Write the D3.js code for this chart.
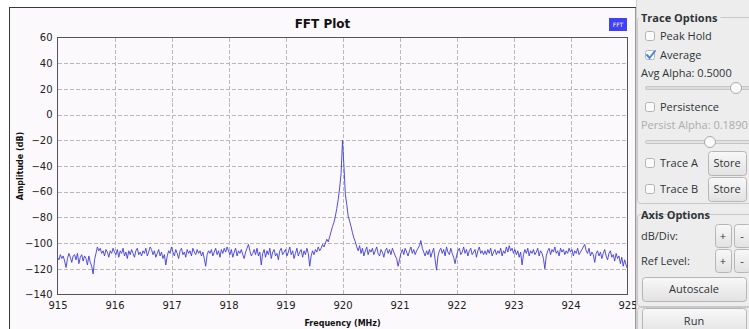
<!DOCTYPE html>
<html>
<head>
<meta charset="utf-8">
<script src="https://cdn.jsdelivr.net/npm/d3@7"></script>
<style>
  html, body { margin: 0; padding: 0; background: #ffffff; overflow: hidden; }
  svg { display: block; }
</style>
</head>
<body>
<div id="chart"></div>
<script>
// FFT bins: start frequency and bin spacing (MHz)
const freqStart = 915;
const freqStep = 0.025;

// averaged magnitude per bin (dB)
const amplitudeDb = [
  -111,-113,-109,-112,-110,-114,-119,-112,-108,-111,-115,-110,-109,-113,-108,-116,-111,-109,-114,-110,
  -112,-117,-110,-115,-118,-124,-113,-108,-103,-106,-104,-108,-106,-110,-105,-107,-111,-106,-108,-104,
  -107,-109,-105,-111,-106,-108,-104,-110,-107,-112,-106,-109,-105,-108,-111,-106,-104,-109,-107,-110,
  -106,-108,-104,-110,-107,-103,-105,-109,-106,-111,-108,-105,-110,-107,-112,-109,-117,-110,-106,-108,
  -103,-107,-110,-105,-108,-112,-106,-104,-109,-107,-111,-105,-108,-106,-110,-104,-107,-109,-105,-108,
  -106,-110,-107,-112,-118,-109,-106,-108,-105,-110,-107,-104,-109,-106,-111,-105,-108,-104,-107,-103,
  -106,-109,-105,-111,-107,-104,-110,-106,-108,-105,-109,-112,-107,-104,-101,-106,-110,-108,-105,-109,
  -104,-110,-107,-117,-108,-105,-111,-106,-109,-104,-112,-107,-105,-110,-108,-113,-106,-104,-109,-107,
  -105,-110,-107,-103,-109,-106,-112,-108,-104,-110,-107,-105,-111,-106,-109,-104,-108,-118,-110,-106,
  -109,-105,-107,-103,-106,-104,-101,-103,-100,-97,-99,-95,-91,-87,-84,-79,-73,-66,-57,-46,
  -20,-40,-62,-70,-79,-83,-87,-92,-96,-99,-103,-106,-102,-108,-104,-110,-106,-103,-109,-105,
  -107,-104,-109,-106,-103,-108,-110,-105,-107,-111,-106,-104,-108,-105,-109,-104,-107,-110,-112,-118,
  -113,-108,-105,-109,-104,-107,-110,-106,-103,-108,-105,-109,-106,-104,-102,-98,-104,-107,-110,-106,
  -109,-105,-111,-107,-104,-113,-121,-110,-106,-104,-108,-105,-110,-103,-107,-109,-104,-108,-111,-116,
  -110,-106,-104,-109,-107,-103,-108,-105,-110,-106,-104,-109,-107,-105,-111,-106,-103,-108,-106,-109,
  -106,-109,-105,-108,-104,-110,-107,-105,-109,-106,-108,-104,-110,-106,-108,-103,-107,-102,-106,-104,
  -108,-105,-109,-106,-111,-107,-117,-109,-105,-108,-104,-110,-106,-108,-105,-109,-107,-104,-110,-106,
  -108,-112,-120,-110,-106,-104,-109,-105,-107,-103,-108,-106,-110,-104,-107,-105,-109,-106,-108,-104,
  -107,-105,-110,-106,-108,-104,-109,-107,-105,-103,-101,-106,-108,-104,-110,-107,-109,-115,-108,-106,
  -110,-107,-112,-108,-105,-110,-113,-108,-106,-111,-109,-114,-108,-112,-110,-116,-111,-118,-113,-117,
  -120
];

const xTicks = [915, 916, 917, 918, 919, 920, 921, 922, 923, 924, 925];
const yTicks = [-140, -120, -100, -80, -60, -40, -20, 0, 20, 40, 60];

const width = 749;
const height = 329;
const plotLeft = 57.5;
const plotRight = 627.5;
const plotTop = 37.5;
const plotBottom = 294.5;
const panelX = 636;

const svg = d3.select("#chart").append("svg")
  .attr("width", width)
  .attr("height", height);

// widget background + outer frame
svg.append("rect")
  .attr("x", 9.5).attr("y", 7.5)
  .attr("width", panelX - 9.5).attr("height", height)
  .attr("fill", "#fcf9fc")
  .attr("stroke", "#3a3a3a");

const x = d3.scaleLinear().domain([915, 925]).range([plotLeft, plotRight]);
const y = d3.scaleLinear().domain([-140, 60]).range([plotBottom, plotTop]);

// grid
const grid = svg.append("g")
  .attr("stroke", "#b9b9b9")
  .attr("stroke-dasharray", "4,2")
  .attr("shape-rendering", "crispEdges");
grid.selectAll("line.v").data(xTicks.slice(1, -1)).join("line")
  .attr("x1", d => Math.round(x(d)) + 0.5).attr("x2", d => Math.round(x(d)) + 0.5)
  .attr("y1", plotTop).attr("y2", plotBottom);
grid.selectAll("line.h").data(yTicks.slice(1, -1)).join("line")
  .attr("y1", d => Math.round(y(d)) + 0.5).attr("y2", d => Math.round(y(d)) + 0.5)
  .attr("x1", plotLeft).attr("x2", plotRight);

// trace
const points = amplitudeDb.map((v, i) => [freqStart + i * freqStep, v]);
const line = d3.line().x(d => x(d[0])).y(d => y(d[1]));
svg.append("path")
  .datum(points)
  .attr("d", line)
  .attr("fill", "none")
  .attr("stroke", "#3c3cdc")
  .attr("stroke-width", 0.9)
  .attr("stroke-linejoin", "round");

// canvas frame
svg.append("rect")
  .attr("x", plotLeft).attr("y", plotTop)
  .attr("width", plotRight - plotLeft).attr("height", plotBottom - plotTop)
  .attr("fill", "none")
  .attr("stroke", "#555")
  .attr("shape-rendering", "crispEdges");

// axes
const axisFont = "'DejaVu Sans', sans-serif";
const yAxis = svg.append("g")
  .attr("transform", `translate(${plotLeft},0)`)
  .call(d3.axisLeft(y).tickValues(yTicks).tickSize(0).tickPadding(5));
const xAxis = svg.append("g")
  .attr("transform", `translate(0,${plotBottom})`)
  .call(d3.axisBottom(x).tickValues(xTicks).tickSize(0).tickPadding(7.5).tickFormat(d3.format("d")));
[xAxis, yAxis].forEach(a => {
  a.select(".domain").remove();
  a.selectAll("text")
    .attr("font-family", axisFont)
    .attr("font-size", 10)
    .attr("fill", "#222");
});

// titles
svg.append("text")
  .attr("x", 322.5).attr("y", 27.5)
  .attr("text-anchor", "middle")
  .attr("font-family", axisFont).attr("font-weight", "bold").attr("font-size", 12)
  .attr("fill", "#111")
  .text("FFT Plot");
svg.append("text")
  .attr("x", (plotLeft + plotRight) / 2).attr("y", 326)
  .attr("text-anchor", "middle")
  .attr("font-family", axisFont).attr("font-weight", "bold").attr("font-size", 8)
  .attr("fill", "#111")
  .text("Frequency (MHz)");
svg.append("text")
  .attr("transform", `translate(23,${(plotTop + plotBottom) / 2}) rotate(-90)`)
  .attr("text-anchor", "middle")
  .attr("font-family", axisFont).attr("font-weight", "bold").attr("font-size", 8)
  .attr("fill", "#111")
  .text("Amplitude (dB)");

// legend
svg.append("rect")
  .attr("x", 609).attr("y", 18).attr("width", 18).attr("height", 13)
  .attr("fill", "#4040f4");
svg.append("text")
  .attr("x", 618).attr("y", 27)
  .attr("text-anchor", "middle")
  .attr("font-family", axisFont).attr("font-size", 6)
  .attr("fill", "#fff")
  .text("FFT");

// ---- control panel ----
const uiFont = "'Open Sans', sans-serif";
const panel = svg.append("g");
panel.append("rect")
  .attr("x", panelX).attr("y", 0).attr("width", width - panelX).attr("height", height)
  .attr("fill", "#ededed");
panel.append("line")
  .attr("x1", panelX + 0.5).attr("x2", panelX + 0.5).attr("y1", 0).attr("y2", height)
  .attr("stroke", "#d0d0d0");

const defs = svg.append("defs");
const btnGrad = defs.append("linearGradient").attr("id", "btn").attr("x1", 0).attr("y1", 0).attr("x2", 0).attr("y2", 1);
btnGrad.append("stop").attr("offset", "0%").attr("stop-color", "#f8f8f8");
btnGrad.append("stop").attr("offset", "100%").attr("stop-color", "#e2e2e2");

function groupBox(top, h, title) {
  panel.append("rect")
    .attr("x", 637.5).attr("y", top + 0.5).attr("width", 140).attr("height", h)
    .attr("rx", 3)
    .attr("fill", "none").attr("stroke", "#c8c8c8");
  if (title) {
    const t = panel.append("text")
      .attr("x", 641).attr("y", top + 4.5)
      .attr("font-family", uiFont).attr("font-weight", "bold").attr("font-size", 11)
      .attr("fill", "#2e3436")
      .text(title);
    const w = t.node().getComputedTextLength();
    panel.insert("rect", "text")
      .attr("x", 639).attr("y", top - 6).attr("width", w + 5).attr("height", 12)
      .attr("fill", "#ededed");
  }
}
groupBox(17, 186, "Trace Options");
groupBox(214, 92, "Axis Options");
groupBox(307, 40, null);

function label(xp, yp, txt, color) {
  panel.append("text")
    .attr("x", xp).attr("y", yp + 4)
    .attr("font-family", uiFont).attr("font-size", 11)
    .attr("fill", color || "#2e3436")
    .text(txt);
}
function checkbox(yc, txt, checked) {
  panel.append("rect")
    .attr("x", 645.5).attr("y", yc - 4.5).attr("width", 9).attr("height", 9)
    .attr("rx", 2)
    .attr("fill", "#fafafa").attr("stroke", "#b4b4b4");
  if (checked) {
    panel.append("path")
      .attr("d", `M647,${yc} L649.5,${yc + 3} L655,${yc - 4}`)
      .attr("fill", "none").attr("stroke", "#4a86d4").attr("stroke-width", 2)
      .attr("stroke-linecap", "round");
  }
  label(660, yc, txt);
}
function button(x0, y0, w, h, txt) {
  panel.append("rect")
    .attr("x", x0 + 0.5).attr("y", y0 + 0.5).attr("width", w).attr("height", h)
    .attr("rx", 3)
    .attr("fill", "url(#btn)").attr("stroke", "#b6b6b6");
  panel.append("text")
    .attr("x", x0 + w / 2).attr("y", y0 + h / 2 + 4)
    .attr("text-anchor", "middle")
    .attr("font-family", uiFont).attr("font-size", 11)
    .attr("fill", "#2e3436")
    .text(txt);
}
function slider(yc, knobX, groove) {
  panel.append("rect")
    .attr("x", 645.5).attr("y", yc - 1.5).attr("width", 120).attr("height", 3)
    .attr("rx", 1.5)
    .attr("fill", groove).attr("stroke", "#bdbdbd").attr("stroke-width", 0.8);
  panel.append("circle")
    .attr("cx", knobX).attr("cy", yc).attr("r", 5.5)
    .attr("fill", "#fbfbfb").attr("stroke", "#a9a9a9");
}

checkbox(36, "Peak Hold", false);
checkbox(55, "Average", true);
label(641, 73, "Avg Alpha: 0.5000");
slider(88, 736, "#dcdcdc");
checkbox(107, "Persistence", false);
label(641, 125, "Persist Alpha: 0.1890", "#acacac");
slider(142, 710, "#e4e4e4");
checkbox(163, "Trace A", false);
button(708, 151, 38, 24, "Store");
checkbox(189, "Trace B", false);
button(708, 177, 38, 24, "Store");
label(641, 236, "dB/Div:");
button(715, 224, 16, 23, "+");
button(734, 224, 16, 23, "-");
label(641, 261, "Ref Level:");
button(715, 249, 16, 23, "+");
button(734, 249, 16, 23, "-");
button(642, 277, 104, 24, "Autoscale");
button(642, 308, 104, 26, "Run");
</script>
</body>
</html>
